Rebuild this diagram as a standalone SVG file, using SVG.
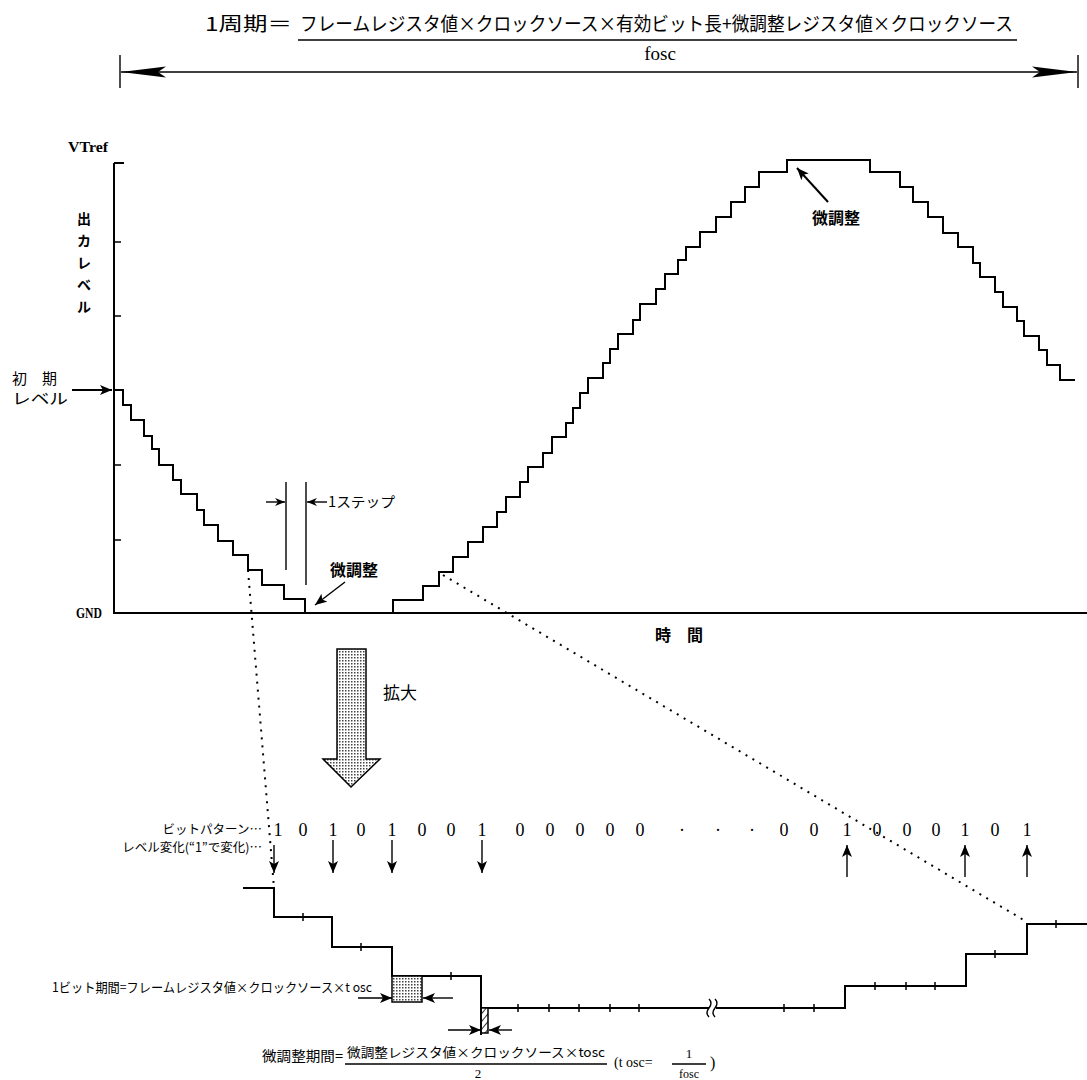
<svg xmlns="http://www.w3.org/2000/svg" width="1087" height="1080" viewBox="0 0 1087 1080">
<defs>
<style>
.ln{stroke:#000;stroke-width:2;fill:none}
.th{stroke:#000;stroke-width:1.4;fill:none}
.dt{stroke:#000;stroke-width:2;stroke-dasharray:2 6;fill:none}
.jp{font-family:"Noto Sans CJK JP","Noto Sans CJK SC",sans-serif;fill:#000}
.sr{font-family:"Liberation Serif",serif;fill:#000}
.tk{stroke:#000;stroke-width:1.5}
</style>
<marker id="ah" viewBox="0 0 10 8" refX="10" refY="4" markerWidth="10" markerHeight="8" markerUnits="userSpaceOnUse" orient="auto"><path d="M0,0 L10,4 L0,8 L3,4 z" fill="#000"/></marker>
<marker id="ahb" viewBox="0 0 12 10" refX="12" refY="5" markerWidth="12" markerHeight="10" markerUnits="userSpaceOnUse" orient="auto"><path d="M0,0 L12,5 L0,10 L3,5 z" fill="#000"/></marker>
<pattern id="dots" width="3" height="3" patternUnits="userSpaceOnUse"><rect width="3" height="3" fill="#fff"/><rect width="1.5" height="1.5" fill="#444"/></pattern>
<pattern id="hatch" width="5" height="5" patternUnits="userSpaceOnUse" patternTransform="rotate(40)"><rect width="5" height="5" fill="#fff"/><line x1="0" y1="0" x2="0" y2="5" stroke="#000" stroke-width="1.6"/></pattern>
</defs>

<g id="period-formula">
<text class="jp" x="205" y="31" font-size="19" textLength="87" lengthAdjust="spacingAndGlyphs">1周期＝</text>
<text class="jp" x="300" y="31" font-size="19" textLength="713" lengthAdjust="spacingAndGlyphs">フレームレジスタ値×クロックソース×有効ビット長+微調整レジスタ値×クロックソース</text>
<line class="th" x1="298" y1="40" x2="1017" y2="40"/>
<text class="sr" x="660" y="60" font-size="19" text-anchor="middle">fosc</text>
</g>

<g id="period-span">
<line class="th" x1="120" y1="55" x2="120" y2="88"/>
<line class="th" x1="1078" y1="55" x2="1078" y2="88"/>
<line class="th" x1="121" y1="72" x2="1077" y2="72"/>
<polygon points="121,72 166,66.5 158,72 166,77.5" fill="#000"/>
<polygon points="1077,72 1032,66.5 1040,72 1032,77.5" fill="#000"/>
</g>

<g id="axes">
<path class="ln" d="M114,163 V613 H1087"/>
<path class="ln" d="M114,163 H124"/>
<path class="tk" d="M114,242 h7 M114,316 h7 M114,465 h7 M114,540 h7"/>
</g>

<g id="axis-labels">
<text class="sr" x="68" y="152" font-size="15" font-weight="bold" textLength="40" lengthAdjust="spacingAndGlyphs">VTref</text>
<text class="jp" font-size="14" text-anchor="middle" font-weight="bold"><tspan x="84" y="224">出</tspan><tspan x="84" y="246">カ</tspan><tspan x="84" y="268">レ</tspan><tspan x="84" y="290">ベ</tspan><tspan x="84" y="312">ル</tspan></text>
<text class="sr" x="76" y="618" font-size="14" font-weight="bold" textLength="26" lengthAdjust="spacingAndGlyphs">GND</text>
<text class="jp" x="655" y="641" font-size="16" font-weight="bold">時　間</text>
</g>

<g id="initial-level">
<text class="jp" x="12" y="384" font-size="15">初　期</text>
<text class="jp" x="12" y="404" font-size="15" textLength="56" lengthAdjust="spacingAndGlyphs">レベル</text>
</g>

<g id="staircase">
<path class="ln" d="M114,390 H123 V405 H131 V420 H144 V436 H152 V449 H159 V465 H173 V480 H181 V494 H197 V510 H204 V525 H218 V541 H233 V555 H248 V570 H262 V585 H284 V599 H305 V613 H393 V600 H423 V586 H439 V572 H453 V557 H468 V542 H483 V527 H497 V512 H506 V497 H520 V482 H528 V467 H543 V453 H552 V437 H566 V423 H573 V408 H580 V393 H588 V378 H603 V363 H610 V349 H618 V334 H633 V320 H640 V304 H656 V289 H665 V274 H678 V260 H686 V247 H700 V232 H716 V217 H731 V202 H745 V187 H759 V172 H787 V160 H870 V172 H900 V187 H913 V202 H928 V217 H943 V233 H958 V247 H973 V263 H980 V277 H995 V292 H1003 V307 H1017 V321 H1024 V336 H1039 V350 H1047 V365 H1060 V380 H1075"/>
</g>

<g id="step-marker">
<line class="th" x1="286" y1="482" x2="286" y2="570"/>
<line class="th" x1="306" y1="482" x2="306" y2="585"/>
<text class="jp" x="328" y="507" font-size="14" textLength="67" lengthAdjust="spacingAndGlyphs">1ステップ</text>
</g>

<g id="fine-adjust-low">
<text class="jp" x="330" y="576" font-size="16" font-weight="bold">微調整</text>
</g>
<g id="fine-adjust-peak">
<text class="jp" x="812" y="224" font-size="16" font-weight="bold">微調整</text>
</g>

<g id="zoom-arrow">
<path d="M337,649 H366 V759 H380 L351,787 L323,759 H337 Z" fill="url(#dots)" stroke="#000" stroke-width="1.5"/>
<text class="jp" x="383" y="699" font-size="17">拡大</text>
</g>

<g id="bit-labels">
<text class="jp" x="262" y="834" font-size="12.5" text-anchor="end">ビットパターン…</text>
<text class="jp" x="262" y="852" font-size="12.5" text-anchor="end">レベル変化(“1”で変化)…</text>
<text class="sr" font-size="18" text-anchor="middle" x="278 303 333 361 392 422 451 482 520 550 580 610 640 682 718 752 784 814 847 877 907 936 965 995 1027" y="836">1010100100000···001000101</text>
</g>

<g id="expanded-wave">
<path class="ln" d="M243,888 H274 V917 H332 V947 H392 V976 H481 V1008 H709 M716,1008 H845 V986 H966 V954 H1027 V924 H1087"/>
<path class="th" d="M709,999 q4,4 0,9 q-4,5 0,9 M715,999 q4,4 0,9 q-4,5 0,9"/>
<path class="tk" d="M303,913 v8 M361,943 v8 M451,972 v8 M518,1004 v8 M549,1004 v8 M579,1004 v8 M610,1004 v8 M639,1004 v8 M784,1004 v8 M814,1004 v8 M875,982 v8 M906,982 v8 M935,982 v8 M995,950 v8 M1056,920 v8"/>
<rect x="392" y="976" width="30" height="26" fill="url(#dots)" stroke="#000" stroke-width="1.5"/>
<rect x="481" y="1008" width="7" height="25" fill="url(#hatch)" stroke="#000" stroke-width="1.5"/>
<line class="ln" x1="481" y1="976" x2="481" y2="1035"/>
</g>

<g id="bit-period-label">
<text class="jp" x="52" y="992" font-size="13" textLength="320" lengthAdjust="spacingAndGlyphs">1ビット期間=フレームレジスタ値×クロックソース×t osc</text>
</g>

<g id="fine-period-formula">
<text class="jp" x="262" y="1061" font-size="14" textLength="81" lengthAdjust="spacingAndGlyphs">微調整期間=</text>
<text class="jp" x="347" y="1057" font-size="13" textLength="258" lengthAdjust="spacingAndGlyphs">微調整レジスタ値×クロックソース×tosc</text>
<line class="th" x1="345" y1="1064" x2="607" y2="1064"/>
<text class="sr" x="478" y="1078" font-size="13" text-anchor="middle">2</text>
<text class="sr" x="614" y="1067" font-size="14">(t osc=</text>
<text class="sr" x="689" y="1058" font-size="13" text-anchor="middle">1</text>
<line class="th" x1="672" y1="1064" x2="706" y2="1064"/>
<text class="sr" x="689" y="1078" font-size="12" text-anchor="middle">fosc</text>
<text class="sr" x="710" y="1068" font-size="16">)</text>
</g>

<g id="connectors">
<line class="ln" x1="72" y1="390" x2="112" y2="390" marker-end="url(#ahb)"/>
<line class="th" x1="266" y1="502" x2="285" y2="502" marker-end="url(#ah)"/>
<line class="th" x1="327" y1="502" x2="307" y2="502" marker-end="url(#ah)"/>
<line class="th" x1="345" y1="582" x2="315" y2="605" marker-end="url(#ahb)"/>
<line class="ln" x1="828" y1="202" x2="797" y2="168" marker-end="url(#ahb)"/>
<line class="dt" x1="248" y1="570" x2="274" y2="888"/>
<line class="dt" x1="443" y1="575" x2="1027" y2="922"/>
<line class="th" x1="333" y1="840" x2="333" y2="873" marker-end="url(#ahb)"/>
<line class="th" x1="392" y1="840" x2="392" y2="873" marker-end="url(#ahb)"/>
<line class="th" x1="482" y1="840" x2="482" y2="873" marker-end="url(#ahb)"/>
<line class="th" x1="274" y1="845" x2="274" y2="873" marker-end="url(#ahb)"/>
<line class="th" x1="847" y1="877" x2="847" y2="845" marker-end="url(#ahb)"/>
<line class="th" x1="965" y1="877" x2="965" y2="845" marker-end="url(#ahb)"/>
<line class="th" x1="1027" y1="877" x2="1027" y2="845" marker-end="url(#ahb)"/>
<line class="th" x1="358" y1="998" x2="392" y2="998" marker-end="url(#ahb)"/>
<line class="th" x1="453" y1="998" x2="423" y2="998" marker-end="url(#ahb)"/>
<line class="th" x1="448" y1="1030" x2="481" y2="1030" marker-end="url(#ahb)"/>
<line class="th" x1="512" y1="1030" x2="489" y2="1030" marker-end="url(#ahb)"/>
</g>
</svg>
